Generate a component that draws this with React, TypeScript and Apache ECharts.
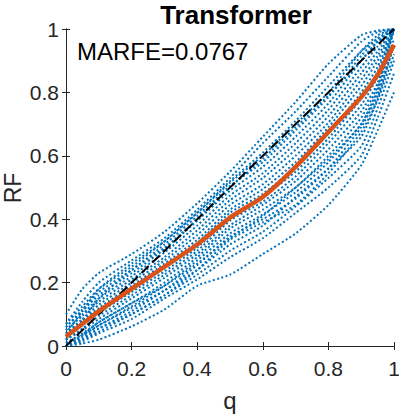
import React, { useEffect, useRef } from "react";
import * as echarts from "echarts";

// q grid shared by every curve
const Q = [0, 0.05, 0.1, 0.2, 0.3, 0.4, 0.5, 0.6, 0.7, 0.8, 0.9, 0.95, 1];

// upper sparse curves
const C1 = [0.1, 0.18, 0.23, 0.29, 0.36, 0.45, 0.55, 0.66, 0.77, 0.89, 0.98, 0.995, 1];
const C2 = [0.07, 0.14, 0.2, 0.27, 0.34, 0.43, 0.53, 0.64, 0.74, 0.85, 0.96, 0.99, 1];
const C3 = [0.04, 0.11, 0.18, 0.26, 0.33, 0.42, 0.52, 0.61, 0.71, 0.82, 0.93, 0.97, 1];
const C4 = [0.02, 0.08, 0.15, 0.24, 0.31, 0.4, 0.5, 0.59, 0.69, 0.79, 0.9, 0.96, 1];
// dense band curves
const B1 = [0, 0.02, 0.045, 0.1, 0.16, 0.24, 0.335, 0.39, 0.445, 0.545, 0.675, 0.775, 0.92];
const B2 = [0, 0.025, 0.055, 0.11, 0.175, 0.255, 0.345, 0.4, 0.465, 0.56, 0.69, 0.79, 0.95];
const B3 = [0.01, 0.035, 0.065, 0.125, 0.19, 0.27, 0.355, 0.415, 0.485, 0.58, 0.7, 0.8, 0.97];
const B4 = [0.01, 0.04, 0.075, 0.135, 0.2, 0.28, 0.37, 0.43, 0.5, 0.6, 0.72, 0.82, 1];
const B5 = [0.02, 0.05, 0.085, 0.15, 0.215, 0.29, 0.38, 0.445, 0.52, 0.62, 0.74, 0.83, 1];
const B6 = [0.02, 0.055, 0.095, 0.16, 0.225, 0.3, 0.395, 0.455, 0.535, 0.64, 0.76, 0.85, 1];
const B7 = [0.03, 0.065, 0.105, 0.17, 0.235, 0.31, 0.405, 0.47, 0.55, 0.655, 0.78, 0.865, 1];
const B8 = [0.03, 0.07, 0.11, 0.18, 0.245, 0.325, 0.42, 0.48, 0.565, 0.67, 0.8, 0.88, 1];
const B9 = [0.04, 0.08, 0.12, 0.19, 0.26, 0.335, 0.43, 0.495, 0.58, 0.69, 0.82, 0.9, 1];
const B10 = [0.04, 0.085, 0.13, 0.2, 0.27, 0.35, 0.445, 0.51, 0.6, 0.705, 0.84, 0.915, 1];
const B11 = [0.05, 0.095, 0.14, 0.21, 0.28, 0.365, 0.46, 0.53, 0.62, 0.725, 0.86, 0.93, 1];
const B12 = [0.05, 0.1, 0.15, 0.22, 0.295, 0.38, 0.475, 0.545, 0.64, 0.745, 0.88, 0.945, 1];
const B13 = [0.06, 0.11, 0.16, 0.23, 0.305, 0.395, 0.49, 0.565, 0.66, 0.765, 0.9, 0.96, 1];
const B14 = [0.06, 0.115, 0.17, 0.24, 0.32, 0.41, 0.505, 0.58, 0.68, 0.785, 0.915, 0.97, 1];
const B15 = [0.07, 0.125, 0.18, 0.25, 0.33, 0.42, 0.515, 0.6, 0.7, 0.8, 0.93, 0.98, 1];
// lower sparse curves
const L1 = [0, 0.008, 0.02, 0.062, 0.115, 0.19, 0.225, 0.29, 0.355, 0.445, 0.57, 0.68, 0.8];
const L2 = [0, 0.015, 0.04, 0.085, 0.15, 0.21, 0.28, 0.34, 0.42, 0.5, 0.6, 0.72, 0.86];
const L3 = [0, 0.02, 0.055, 0.1, 0.16, 0.225, 0.3, 0.36, 0.44, 0.53, 0.63, 0.75, 0.9];
const L4 = [0, 0.03, 0.065, 0.12, 0.175, 0.24, 0.32, 0.38, 0.47, 0.56, 0.66, 0.78, 0.95];
const L5 = [0, 0.035, 0.075, 0.135, 0.19, 0.26, 0.34, 0.41, 0.5, 0.59, 0.7, 0.81, 1];

const BLUE_CURVES = [C1, C2, C3, C4, B1, B2, B3, B4, B5, B6, B7, B8, B9, B10, B11, B12, B13, B14, B15, L1, L2, L3, L4, L5];

// mean curve (orange)
const MEAN = [0.03, 0.07, 0.11, 0.18, 0.25, 0.32, 0.405, 0.47, 0.565, 0.675, 0.785, 0.855, 0.95];
// reference diagonal
const DIAG_Q = [0, 1];
const DIAG_RF = [0, 1];

const X_TICKS_MIN = 0;
const X_TICKS_MAX = 1;
const TICK_STEP = 0.2;

const TITLE = "Transformer";
const METRIC = "MARFE=0.0767";
const X_NAME = "q";
const Y_NAME = "RF";

const FONT = "'Liberation Sans', Arial, Helvetica, sans-serif";
const AX = "#262626";

const pair = (xs: number[], ys: number[]) => xs.map((x, i) => [x, ys[i]]);

export default function App() {
  const ref = useRef<HTMLDivElement>(null);
  useEffect(() => {
    if (!ref.current) return;
    const chart = echarts.init(ref.current, null, { renderer: "svg" });
    const grid = { left: 66, top: 29, width: 328, height: 317, outerBoundsMode: "none", containLabel: false };
    const tickCommon = {
      min: X_TICKS_MIN,
      max: X_TICKS_MAX,
      interval: TICK_STEP,
      splitLine: { show: false },
      axisLine: { show: true, lineStyle: { color: AX, width: 1 } },
      axisTick: { show: true, inside: true, length: 4, lineStyle: { color: AX, width: 1 } },
    };
    const series: any[] = BLUE_CURVES.map((c) => ({
      type: "line",
      data: pair(Q, c),
      showSymbol: false,
      smooth: 0.2,
      lineStyle: { color: "#0072BD", width: 2, type: [2, 2.4] },
      z: 2,
      silent: true,
    }));
    series.push({
      type: "line",
      data: pair(DIAG_Q, DIAG_RF),
      showSymbol: false,
      lineStyle: { color: "#000000", width: 2, type: [10, 5] },
      z: 3,
      silent: true,
    });
    series.push({
      type: "line",
      data: pair(Q, MEAN),
      showSymbol: false,
      smooth: 0.2,
      lineStyle: { color: "#D95319", width: 4.5 },
      z: 4,
      silent: true,
    });
    chart.setOption({
      animation: false,
      backgroundColor: "#ffffff",
      grid,
      title: {
        text: TITLE,
        left: 231,
        top: -3,
        textAlign: "center",
        textStyle: { fontFamily: FONT, fontSize: 26, fontWeight: "bold", color: "#000" },
      },
      graphic: [
        {
          type: "text",
          left: 77,
          top: 39,
          style: { text: METRIC, fontFamily: FONT, fontSize: 24, fill: "#000" },
          z: 10,
        },
        {
          type: "text",
          x: 13,
          y: 188,
          rotation: Math.PI / 2,
          style: {
            text: Y_NAME,
            fontFamily: FONT,
            fontSize: 23,
            fill: AX,
            align: "center",
            verticalAlign: "middle",
          },
          z: 10,
        },
      ],
      xAxis: [
        {
          type: "value",
          position: "bottom",
          ...tickCommon,
          name: X_NAME,
          nameLocation: "middle",
          nameGap: 42,
          nameTextStyle: { fontFamily: FONT, fontSize: 24, color: AX },
          axisLabel: { fontFamily: FONT, fontSize: 21, color: AX, margin: 12 },
        },
        {
          type: "value",
          position: "top",
          ...tickCommon,
          axisLabel: { show: false },
        },
      ],
      yAxis: [
        {
          type: "value",
          position: "left",
          ...tickCommon,
          axisLabel: { fontFamily: FONT, fontSize: 21, color: AX, margin: 7 },
        },
        {
          type: "value",
          position: "right",
          ...tickCommon,
          axisLabel: { show: false },
        },
      ],
      series,
    });
    return () => chart.dispose();
  }, []);
  return (
    <div
      ref={ref}
      style={{ position: "fixed", left: 0, top: 0, width: 399, height: 416, background: "#fff" }}
    />
  );
}
